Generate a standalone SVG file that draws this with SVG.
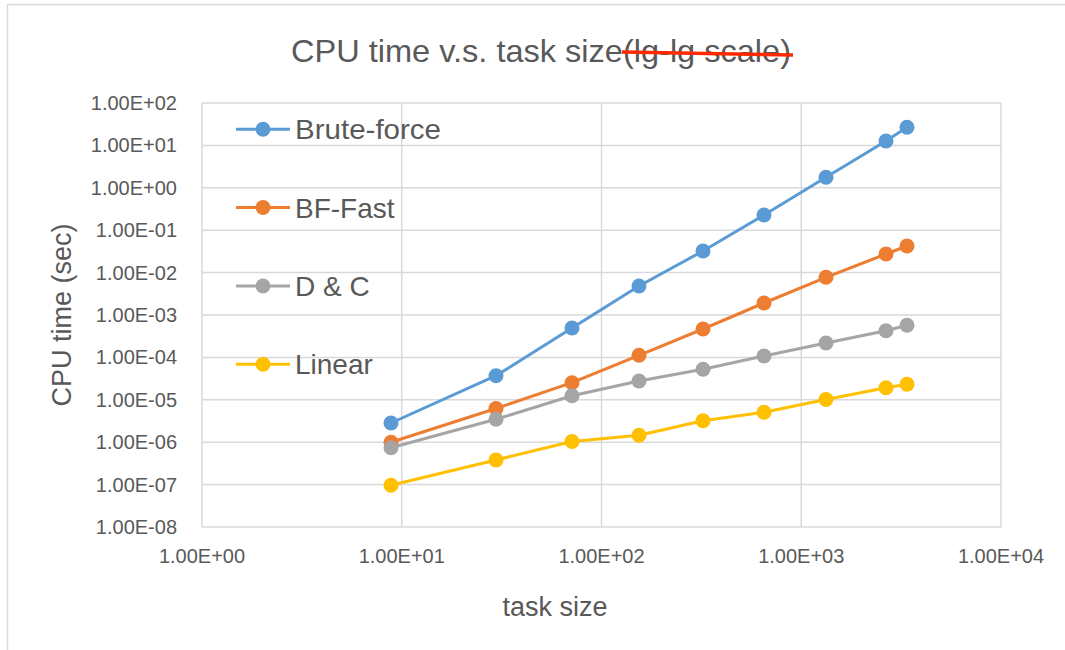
<svg xmlns="http://www.w3.org/2000/svg" width="1065" height="650" viewBox="0 0 1065 650">
<style>
  .grid { stroke: #d9d9d9; stroke-width: 1.5; fill: none; }
  .lbl { font-family: "Liberation Sans", Arial, sans-serif; font-size: 20px; fill: #595959; }
  .ylbl { text-anchor: end; }
  .xlbl { text-anchor: middle; }
  .title { font-family: "Liberation Sans", Arial, sans-serif; font-size: 32px; fill: #595959; }
  .axt { font-family: "Liberation Sans", Arial, sans-serif; font-size: 27px; fill: #595959; text-anchor: middle; }
  .leg { font-family: "Liberation Sans", Arial, sans-serif; font-size: 28px; fill: #595959; }
  .s { fill: none; stroke-width: 3; stroke-linejoin: round; }
  .bf { stroke: #5b9bd5; } .bfm { fill: #5b9bd5; }
  .fa { stroke: #ed7d31; } .fam { fill: #ed7d31; }
  .dc { stroke: #a5a5a5; } .dcm { fill: #a5a5a5; }
  .li { stroke: #ffc000; } .lim { fill: #ffc000; }
</style>
<rect width="1065" height="650" fill="#ffffff"/>
<g id="frame">
  <path class="grid" d="M7.5,650 V4.5 H1065"/>
</g>
<g id="title">
  <text class="title" x="291" y="62" textLength="500" lengthAdjust="spacingAndGlyphs">CPU time v.s. task size(lg-lg scale)</text>
  <line x1="622" y1="52" x2="793" y2="55" stroke="#ff2a00" stroke-width="3.5"/>
</g>
<g id="gridlines">
  <path class="grid" d="M202,103 H1001 M202,145.4 H1001 M202,187.8 H1001 M202,230.2 H1001 M202,272.6 H1001 M202,315 H1001 M202,357.4 H1001 M202,399.8 H1001 M202,442.2 H1001 M202,484.6 H1001 M202,527 H1001"/>
  <path class="grid" d="M202,103 V527 M401.75,103 V527 M601.5,103 V527 M801.25,103 V527 M1001,103 V527"/>
</g>
<g id="y-axis-labels" class="lbl ylbl">
  <text x="177" y="110">1.00E+02</text>
  <text x="177" y="152.4">1.00E+01</text>
  <text x="177" y="194.8">1.00E+00</text>
  <text x="177" y="237.2">1.00E-01</text>
  <text x="177" y="279.6">1.00E-02</text>
  <text x="177" y="322">1.00E-03</text>
  <text x="177" y="364.4">1.00E-04</text>
  <text x="177" y="406.8">1.00E-05</text>
  <text x="177" y="449.2">1.00E-06</text>
  <text x="177" y="491.6">1.00E-07</text>
  <text x="177" y="534">1.00E-08</text>
</g>
<g id="x-axis-labels" class="lbl xlbl">
  <text x="202" y="563">1.00E+00</text>
  <text x="401.75" y="563">1.00E+01</text>
  <text x="601.5" y="563">1.00E+02</text>
  <text x="801.25" y="563">1.00E+03</text>
  <text x="1001" y="563">1.00E+04</text>
</g>
<g id="axis-titles">
  <text class="axt" transform="translate(71,315) rotate(-90)" x="0" y="0">CPU time (sec)</text>
  <text class="axt" x="555" y="616">task size</text>
</g>
<g id="connectors">
  <polyline class="s bf" points="391,423 496,375.7 572,328 639,286 703,251 764,215 826,177.3 886,141 907,127.3"/>
  <polyline class="s fa" points="391,442.3 496,408.5 572,382.7 639,355.3 703,329 764,303 826,277.3 886,254 907,246"/>
  <polyline class="s dc" points="391,447.7 496,419.3 572,395.7 639,381 703,369.3 764,356 826,343 886,330.7 907,325.3"/>
  <polyline class="s li" points="391,485.3 496,460 572,441.5 639,435.3 703,420.7 764,412.3 826,399.5 886,387.7 907,384.3"/>
</g>
<g id="brute-force-markers" class="bfm">
  <circle cx="391" cy="423" r="7.5"/><circle cx="496" cy="375.7" r="7.5"/><circle cx="572" cy="328" r="7.5"/>
  <circle cx="639" cy="286" r="7.5"/><circle cx="703" cy="251" r="7.5"/><circle cx="764" cy="215" r="7.5"/>
  <circle cx="826" cy="177.3" r="7.5"/><circle cx="886" cy="141" r="7.5"/><circle cx="907" cy="127.3" r="7.5"/>
</g>
<g id="bf-fast-markers" class="fam">
  <circle cx="391" cy="442.3" r="7.5"/><circle cx="496" cy="408.5" r="7.5"/><circle cx="572" cy="382.7" r="7.5"/>
  <circle cx="639" cy="355.3" r="7.5"/><circle cx="703" cy="329" r="7.5"/><circle cx="764" cy="303" r="7.5"/>
  <circle cx="826" cy="277.3" r="7.5"/><circle cx="886" cy="254" r="7.5"/><circle cx="907" cy="246" r="7.5"/>
</g>
<g id="dc-markers" class="dcm">
  <circle cx="391" cy="447.7" r="7.5"/><circle cx="496" cy="419.3" r="7.5"/><circle cx="572" cy="395.7" r="7.5"/>
  <circle cx="639" cy="381" r="7.5"/><circle cx="703" cy="369.3" r="7.5"/><circle cx="764" cy="356" r="7.5"/>
  <circle cx="826" cy="343" r="7.5"/><circle cx="886" cy="330.7" r="7.5"/><circle cx="907" cy="325.3" r="7.5"/>
</g>
<g id="linear-markers" class="lim">
  <circle cx="391" cy="485.3" r="7.5"/><circle cx="496" cy="460" r="7.5"/><circle cx="572" cy="441.5" r="7.5"/>
  <circle cx="639" cy="435.3" r="7.5"/><circle cx="703" cy="420.7" r="7.5"/><circle cx="764" cy="412.3" r="7.5"/>
  <circle cx="826" cy="399.5" r="7.5"/><circle cx="886" cy="387.7" r="7.5"/><circle cx="907" cy="384.3" r="7.5"/>
</g>
<g id="legend">
  <g id="legend-brute-force">
    <line class="s bf" x1="236" y1="129.3" x2="290" y2="129.3"/>
    <circle class="bfm" cx="263" cy="129.3" r="7.5"/>
    <text class="leg" x="295" y="139.3" textLength="146" lengthAdjust="spacingAndGlyphs">Brute-force</text>
  </g>
  <g id="legend-bf-fast">
    <line class="s fa" x1="236" y1="207.5" x2="290" y2="207.5"/>
    <circle class="fam" cx="263" cy="207.5" r="7.5"/>
    <text class="leg" x="295" y="217.5">BF-Fast</text>
  </g>
  <g id="legend-dc">
    <line class="s dc" x1="236" y1="286" x2="290" y2="286"/>
    <circle class="dcm" cx="263" cy="286" r="7.5"/>
    <text class="leg" x="295" y="296">D &amp; C</text>
  </g>
  <g id="legend-linear">
    <line class="s li" x1="236" y1="364.3" x2="290" y2="364.3"/>
    <circle class="lim" cx="263" cy="364.3" r="7.5"/>
    <text class="leg" x="295" y="374.3">Linear</text>
  </g>
</g>
</svg>
